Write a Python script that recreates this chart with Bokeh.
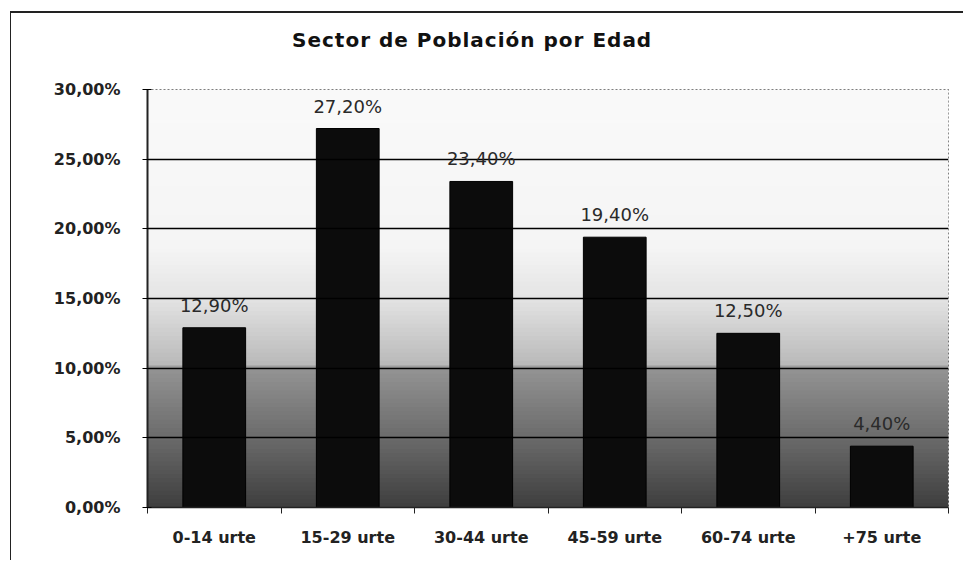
from bokeh.plotting import figure
from bokeh.layouts import column
from bokeh.models import (ColumnDataSource, FixedTicker, CustomJSTickFormatter,
                          BoxAnnotation, LabelSet, Div)
from bokeh.core.properties import value
from bokeh.embed import file_html
from bokeh.resources import INLINE

title_text = "Sector de Población por Edad"
categories = ["0-14 urte", "15-29 urte", "30-44 urte", "45-59 urte", "60-74 urte", "+75 urte"]
values = [12.9, 27.2, 23.4, 19.4, 12.5, 4.4]
value_labels = ["12,90%", "27,20%", "23,40%", "19,40%", "12,50%", "4,40%"]
y_ticks = [0, 5, 10, 15, 20, 25, 30]

xs = [i + 0.5 for i in range(len(categories))]
src = ColumnDataSource(dict(x=xs, top=values, lab=value_labels))

p = figure(width=944, height=487, output_backend="svg", toolbar_location=None,
           x_range=(0, len(categories)), y_range=(0, 30),
           min_border_left=136, min_border_right=7, min_border_top=16, min_border_bottom=53)

# background gradient (light top -> dark bottom)
def shade(frac):
    stops = [(0.0, 62), (0.17, 108), (0.333, 148), (0.34, 185), (0.5, 228), (0.62, 245), (1.0, 250)]
    for (f0, c0), (f1, c1) in zip(stops, stops[1:]):
        if f0 <= frac <= f1:
            t = (frac - f0) / (f1 - f0) if f1 > f0 else 0
            c = int(c0 + (c1 - c0) * t)
            return "#%02x%02x%02x" % (c, c, c)
    return "#fafafa"

n = 100
for i in range(n):
    b = 30 * i / n
    t = 30 * (i + 1) / n
    col = shade((i + 0.5) / n)
    p.add_layout(BoxAnnotation(bottom=b, top=min(30, t + 0.15), fill_color=col, fill_alpha=1.0,
                               line_alpha=0, level="underlay"))

p.background_fill_color = "#fafafa"
p.border_fill_color = "white"
p.outline_line_color = "#555"
p.outline_line_dash = "2 2"
p.outline_line_width = 1

p.xgrid.grid_line_color = None
p.ygrid.ticker = FixedTicker(ticks=y_ticks)
p.ygrid.grid_line_color = "#000000"
p.ygrid.grid_line_width = 1.5
p.ygrid.level = "glyph"

p.vbar(x="x", top="top", width=0.47, bottom=0, source=src,
       fill_color="#0c0c0c", line_color="#000")

labels = LabelSet(x="x", y="top", text="lab", source=src, text_align="center",
                  text_baseline="bottom", y_offset=12, text_font_size="18px",
                  text_font=value("DejaVu Sans"), text_color="#2a2a2a")
p.add_layout(labels)

p.yaxis.ticker = FixedTicker(ticks=y_ticks)
p.yaxis.formatter = CustomJSTickFormatter(code="return tick.toFixed(2).replace('.', ',') + '%';")
p.yaxis.major_label_text_font = "DejaVu Sans"
p.yaxis.major_label_text_font_size = "16px"
p.yaxis.major_label_text_font_style = "bold"
p.yaxis.major_label_text_color = "#222"
p.yaxis.major_label_standoff = 22
p.yaxis.major_tick_in = 4
p.yaxis.major_tick_out = 5
p.yaxis.minor_tick_line_color = None
p.yaxis.axis_line_color = "#222"
p.yaxis.axis_line_width = 2

p.xaxis.ticker = FixedTicker(ticks=xs, minor_ticks=list(range(len(categories) + 1)))
p.xaxis.formatter = CustomJSTickFormatter(args=dict(labels=categories),
                                          code="return labels[Math.round(tick - 0.5)] || '';")
p.xaxis.major_tick_line_color = None
p.xaxis.minor_tick_in = 0
p.xaxis.minor_tick_out = 6
p.xaxis.minor_tick_line_color = "#222"
p.xaxis.axis_line_color = "#222"
p.xaxis.axis_line_width = 1.5
p.xaxis.major_label_text_font = "DejaVu Sans"
p.xaxis.major_label_text_font_size = "16px"
p.xaxis.major_label_text_font_style = "bold"
p.xaxis.major_label_text_color = "#222"
p.xaxis.major_label_standoff = 14

title_div = Div(text=title_text, width=944, height=50,
                styles={"font-family": "DejaVu Sans", "font-size": "20px", "font-weight": "bold",
                        "color": "#111", "padding-left": "276px", "line-height": "44px",
                        "letter-spacing": "1px"})

layout = column(title_div, p, spacing=0)
layout.styles = {"margin-left": "10px", "margin-top": "11px", "background": "white",
                 "border-left": "1px solid #222", "border-top": "2px solid #222"}

open("out.html", "w").write(file_html(layout, INLINE))
